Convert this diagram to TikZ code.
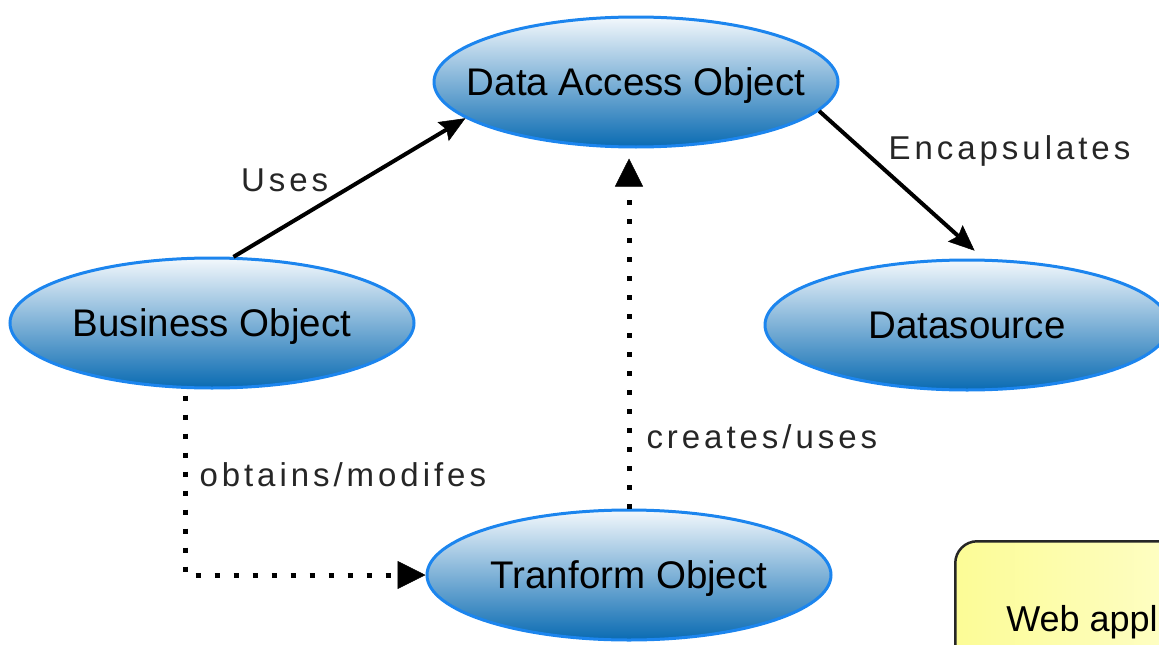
\documentclass[tikz,border=0pt]{standalone}
\usepackage{fontspec}
\setmainfont{Liberation Sans}
\newfontfamily\edgefont[LetterSpace=12]{Liberation Sans}
\usetikzlibrary{positioning,shapes.geometric,arrows.meta}

\definecolor{ellTop}{HTML}{F3F8FC}
\definecolor{ellBot}{HTML}{0A6BB2}
\definecolor{ellLine}{HTML}{1C85EE}
\definecolor{noteFill}{HTML}{FCFC96}
\definecolor{noteLight}{HTML}{FFFFE2}

\tikzset{
  obj/.style={ellipse, draw=ellLine, line width=3pt, top color=ellTop, bottom color=ellBot,
    minimum width=404pt, minimum height=130pt, inner xsep=-90pt, inner ysep=0pt,
    text height=27pt, text depth=0pt,
    font=\fontsize{38.5}{44}\selectfont, text=black},
  note/.style={rectangle, rounded corners=22pt, draw=black!85, line width=2.5pt,
    left color=noteFill, right color=noteLight, font=\fontsize{36}{40}\selectfont,
    text height=26pt, text depth=8pt, inner xsep=51pt, inner ysep=64pt},
  lbl/.style={font=\edgefont\fontsize{33}{38}\selectfont, text=black!85, inner sep=3pt},
  uses/.style={-{Stealth[length=26pt,width=22pt,inset=4pt,line width=0.5pt]}, line width=4pt},
  dep/.style={-{Triangle[length=28pt,width=28pt,line width=0.5pt]}, line width=5pt, dash pattern=on 5pt off 14pt},
}

\begin{document}
\begin{tikzpicture}
  \useasboundingbox (0,0) rectangle (1159pt,-645pt);
  \clip (0,0) rectangle (1159pt,-645pt);

  \node [obj] (dao) at (636pt,-82pt) {Data Access Object};
  \node [obj, on grid, below left=241pt and 424pt of dao] (biz) {Business Object};
  \node [obj, on grid, below right=243pt and 331pt of dao] (ds) {Datasource};
  \node [obj, on grid, below left=493pt and 7pt of dao] (tr) {Tranform Object};

  \node [note, anchor=north west] (web) at (954pt,-540pt) {Web application};

  % associations
  \draw [uses] (biz.72) -- node [lbl, pos=0.43, above left] (usesLbl) {Uses} (dao.192);
  \draw [uses, shorten >=12pt] (dao.351) -- node [lbl, pos=0.35, above right, xshift=7pt, yshift=-9pt] (encLbl) {Encapsulates} (ds.76);

  % dependencies
  \draw [dep, shorten >=10pt] (tr.north) -- node [lbl, pos=0.2, right=12pt] (crLbl) {creates/uses} (tr.north |- dao.south);
  \draw [dep, shorten <=6pt] ([xshift=-27pt]biz.south) |- node [lbl, pos=0.23, right=9pt] (obLbl) {obtains/modifes} (tr.west);
\end{tikzpicture}
\end{document}
